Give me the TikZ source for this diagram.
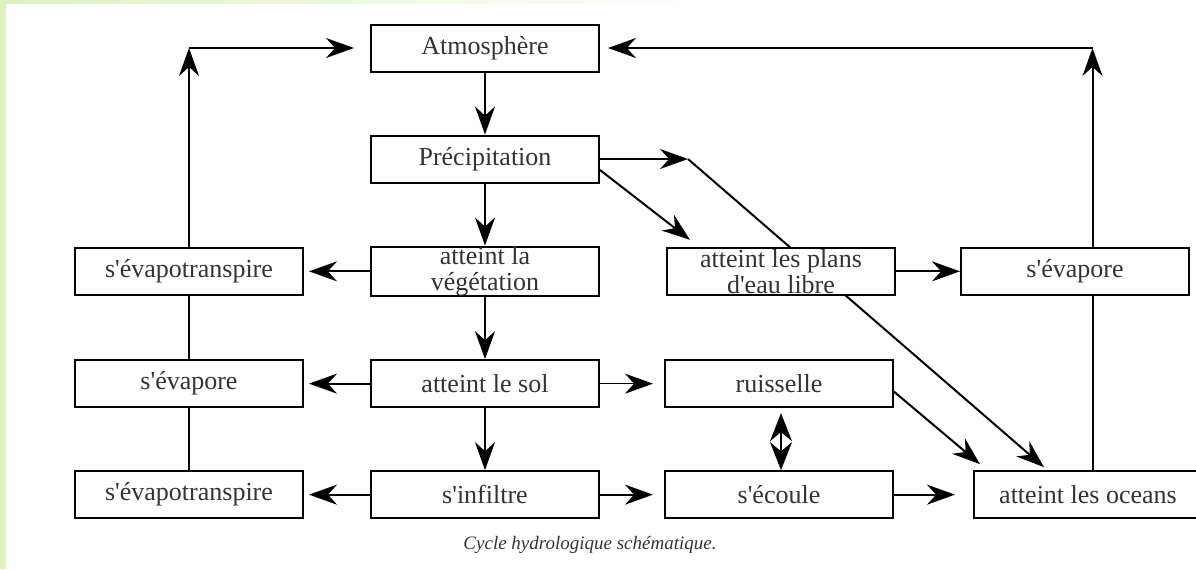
\documentclass[tikz,border=0pt]{standalone}
\usepackage{fontspec}
\setmainfont{Liberation Serif}
\usetikzlibrary{positioning,arrows.meta}
\definecolor{pagegreen}{HTML}{DCF0C2}
\newcommand{\apo}{\textquotesingle}
\begin{document}
\begin{tikzpicture}[x=0.5pt, y=-0.5pt, node distance={31pt and 33pt},
    box/.style = {draw, line width=1pt, fill=white, minimum width=114pt, minimum height=23.5pt,
        inner sep=0pt, align=center, text=black!80, font=\fontsize{13}{13}\selectfont},
    arr/.style = {line width=1pt, -{Stealth[length=14pt, width=10pt]}},
    thinarr/.style = {line width=0.6pt, -{Stealth[length=14pt, width=10pt]}}]
    \clip (0,0) rectangle (1196,569);
    \fill[pagegreen] (0,0) rectangle (6,569);
    \shade[left color=pagegreen, right color=white] (0,0) rectangle (700,3);
    % long diagonal goes behind the boxes
    \node[box] (atm) at (485,48) {Atmosphère};
    \node[box] (prec) [below=of atm] {Précipitation};
    \coordinate (pk) at ([xshift=44pt]prec.east);
    \node[box] (veg) [below=of prec] {atteint la\\végétation};
    \node[box] (sol) [below=of veg] {atteint le sol};
    \node[box] (inf) [below=of sol] {s\apo infiltre};
    \node[box] (evt1) [left=of veg] {s\apo évapotranspire};
    \node[box] (eva1) [left=of sol] {s\apo évapore};
    \node[box] (evt2) [left=of inf] {s\apo évapotranspire};
    \node[box] (ruis) [right=32pt of sol] {ruisselle};
    \node[box] (ecou) [right=32pt of inf] {s\apo écoule};
    \node[box] (ocean) [right=39.5pt of ecou] {atteint les oceans};
    \draw[arr] (pk) -- ([xshift=35.5pt, yshift=1.5pt]ocean.north west);
    \node[box] (plans) [right=of veg] {atteint les plans\\d\apo eau libre};
    \node[box] (eva2) [right=32pt of plans] {s\apo évapore};
    % centre column
    \draw[arr] (atm) -- (prec);
    \draw[arr] (prec) -- (veg);
    \draw[arr] (veg) -- (sol);
    \draw[arr] (sol) -- (inf);
    \draw[thinarr] (prec.east) -- (pk);
    \draw[arr] ([yshift=-5.5pt]prec.east) -- ([xshift=12pt, yshift=3.5pt]plans.north west);
    % left column
    \draw[arr, shorten >=2.5pt] (veg) -- (evt1);
    \draw[arr, shorten >=2.5pt] (sol) -- (eva1);
    \draw[arr, shorten >=2.5pt] (inf) -- (evt2);
    \draw[line width=1pt] (evt2) -- (eva1);
    \draw[line width=1pt] (eva1) -- (evt1);
    \draw[arr] (evt1.north) -- (evt1.north |- atm.west) coordinate (cl);
    \draw[arr, shorten >=8pt] (cl) -- (atm.west);
    % right side
    \draw[thinarr, shorten >=5.5pt] (sol) -- (ruis);
    \draw[arr, shorten >=5.5pt] (inf) -- (ecou);
    \draw[line width=1pt, {Stealth[length=14pt, width=11pt]}-{Stealth[length=14pt, width=11pt]},
        shorten <=2.5pt] ([xshift=1pt]ruis.south) -- ([xshift=1pt]ecou.north);
    \draw[arr, shorten >=9pt] (ecou) -- (ocean);
    \draw[arr] (plans) -- (eva2);
    \draw[arr] ([yshift=-4pt]ruis.east) -- ([xshift=3.5pt, yshift=3pt]ocean.north west);
    \draw[line width=1pt] ([xshift=2.25pt]ocean.north) -- ([xshift=2.25pt]ocean.north |- eva2.south);
    \draw[arr] ([xshift=2.25pt]ocean.north |- eva2.north) -- ([xshift=2.25pt]ocean.north |- atm.east) coordinate (cr);
    \draw[arr, shorten >=4pt] (cr) -- (atm.east);
    % caption
    \node[text=black!80, font=\fontsize{9.5}{11}\selectfont\itshape] (cap) at (590,545) {Cycle hydrologique schématique.};
\end{tikzpicture}
\end{document}
